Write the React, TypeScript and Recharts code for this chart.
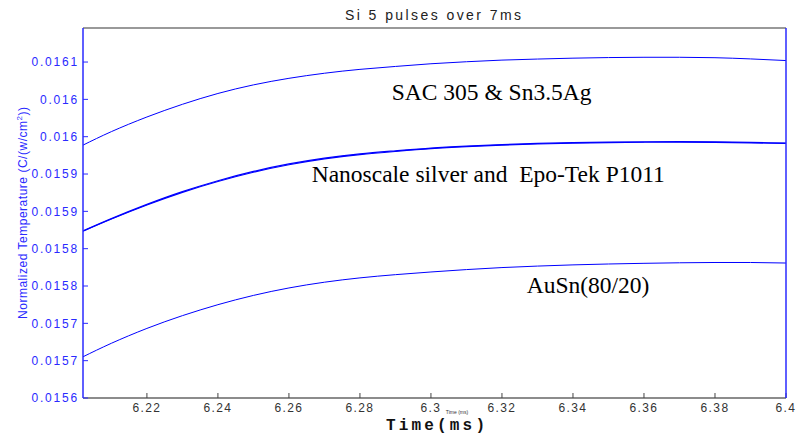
import React from 'react';
import { LineChart, Line, XAxis, YAxis } from 'recharts';

const timeMs = [6.202, 6.21, 6.22, 6.23, 6.24, 6.25, 6.26, 6.27, 6.28, 6.29, 6.3, 6.31, 6.32, 6.33, 6.34, 6.35, 6.36, 6.37, 6.38, 6.39, 6.4];
const sac305 = [0.0159387, 0.0159568, 0.0159764, 0.0159934, 0.0160079, 0.0160194, 0.0160282, 0.016035, 0.0160402, 0.0160441, 0.0160477, 0.0160504, 0.0160526, 0.016054, 0.0160552, 0.016056, 0.0160564, 0.0160564, 0.0160558, 0.0160542, 0.016052];
const nanoSilver = [0.0158235, 0.0158398, 0.0158586, 0.0158755, 0.01589, 0.0159024, 0.0159124, 0.0159203, 0.015926, 0.0159302, 0.0159339, 0.0159366, 0.0159387, 0.0159402, 0.0159413, 0.0159421, 0.0159426, 0.0159428, 0.0159425, 0.0159418, 0.015941];
const epoTek = [0.0158238, 0.0158403, 0.0158593, 0.0158764, 0.015891, 0.0159035, 0.0159135, 0.0159213, 0.015927, 0.0159311, 0.0159348, 0.0159374, 0.0159395, 0.015941, 0.015942, 0.0159428, 0.0159432, 0.0159434, 0.0159431, 0.0159423, 0.0159414];
const auSn = [0.0156552, 0.0156733, 0.0156932, 0.0157103, 0.015725, 0.0157374, 0.0157474, 0.0157551, 0.0157609, 0.0157652, 0.0157688, 0.015772, 0.0157747, 0.0157767, 0.0157783, 0.0157795, 0.0157804, 0.0157811, 0.0157815, 0.0157815, 0.0157808];

const xTicks = [6.22, 6.24, 6.26, 6.28, 6.3, 6.32, 6.34, 6.36, 6.38, 6.4];
const xTickLabels = ['6.22', '6.24', '6.26', '6.28', '6.3', '6.32', '6.34', '6.36', '6.38', '6.4'];
const yTicks = [0.0156, 0.01565, 0.0157, 0.01575, 0.0158, 0.01585, 0.0159, 0.01595, 0.016, 0.01605];
const yTickLabels = ['0.0156', '0.0157', '0.0157', '0.0158', '0.0158', '0.0159', '0.0159', '0.016', '0.016', '0.0161'];

const xDomain = [6.202, 6.4];
const yDomain = [0.0156, 0.0160956];

const data = timeMs.map((t, i) => ({ t, sac: sac305[i], nano: nanoSilver[i], epo: epoTek[i], ausn: auSn[i] }));

const BLUE = '#0000ff';
const AXIS_BLUE = '#2a2aff';

const fmtX = (v: number) => {
  const i = xTicks.findIndex((x) => Math.abs(x - v) < 1e-9);
  return i >= 0 ? xTickLabels[i] : String(v);
};
const fmtY = (v: number) => {
  const i = yTicks.findIndex((y) => Math.abs(y - v) < 1e-10);
  return i >= 0 ? yTickLabels[i] : String(v);
};

export default function App() {
  return (
    <div style={{ position: 'absolute', left: 0, top: 0, width: 796, height: 438, background: '#fff' }}>
      <LineChart width={796} height={438} data={data} margin={{ top: 0, right: 0, bottom: 0, left: 0 }}>
        <XAxis
          xAxisId={0}
          dataKey="t"
          type="number"
          domain={xDomain}
          allowDataOverflow
          ticks={xTicks}
          tickFormatter={fmtX}
          height={40}
          tickSize={-5}
          tickMargin={10}
          stroke="#555"
          axisLine={{ stroke: '#666', strokeWidth: 1.5 }}
          tickLine={{ stroke: '#444' }}
          tick={{ fill: '#333', fontSize: 12, fontFamily: 'Liberation Sans, Arial', letterSpacing: 1.4 }}
        />
        <XAxis
          xAxisId="top"
          orientation="top"
          dataKey="t"
          type="number"
          domain={xDomain}
          allowDataOverflow
          ticks={xTicks}
          height={28}
          tickSize={-5}
          tick={false}
          axisLine={{ stroke: '#777', strokeWidth: 1.5 }}
          tickLine={{ stroke: '#555' }}
        />
        <YAxis
          yAxisId={0}
          type="number"
          domain={yDomain}
          allowDataOverflow
          ticks={yTicks}
          tickFormatter={fmtY}
          width={83}
          tickSize={-5}
          tickMargin={9}
          axisLine={{ stroke: AXIS_BLUE, strokeWidth: 1.5 }}
          tickLine={{ stroke: AXIS_BLUE }}
          tick={{ fill: AXIS_BLUE, fontSize: 12, fontFamily: 'Liberation Sans, Arial', letterSpacing: 1.8 }}
        />
        <YAxis
          yAxisId="right"
          orientation="right"
          type="number"
          domain={yDomain}
          allowDataOverflow
          ticks={yTicks}
          width={10}
          tickSize={-5}
          tick={false}
          axisLine={{ stroke: AXIS_BLUE, strokeWidth: 1.5 }}
          tickLine={{ stroke: AXIS_BLUE }}
        />
        <Line xAxisId={0} yAxisId={0} type="natural" dataKey="sac" stroke={BLUE} strokeWidth={1} dot={false} isAnimationActive={false} />
        <Line xAxisId={0} yAxisId={0} type="natural" dataKey="nano" stroke={BLUE} strokeWidth={1.2} dot={false} isAnimationActive={false} />
        <Line xAxisId={0} yAxisId={0} type="natural" dataKey="epo" stroke={BLUE} strokeWidth={1.2} dot={false} isAnimationActive={false} />
        <Line xAxisId={0} yAxisId={0} type="natural" dataKey="ausn" stroke={BLUE} strokeWidth={1} dot={false} isAnimationActive={false} />
      </LineChart>
      <svg width={796} height={438} style={{ position: 'absolute', left: 0, top: 0, pointerEvents: 'none' }}>
        <text x={433} y={20} textAnchor="middle" fontFamily="Liberation Sans, Arial" fontSize={14} fill="#222" textLength={176} lengthAdjust="spacing">
          Si 5 pulses over 7ms
        </text>
        <text
          x={0}
          y={0}
          transform="translate(27,213) rotate(-90)"
          textAnchor="middle"
          fontFamily="Liberation Sans, Arial"
          fontSize={12}
          fill={AXIS_BLUE}
          textLength={212}
          lengthAdjust="spacing"
        >
          Normalized Temperature (C/(w/cm<tspan dy={-5} fontSize={8}>2</tspan><tspan dy={5}>))</tspan>
        </text>
        <text x={386} y={429.5} fontFamily="Liberation Mono, Courier New, monospace" fontWeight="bold" fontSize={16} fill="#111" textLength={99} lengthAdjust="spacing">
          Time(ms)
        </text>
        <text x={457} y={413.5} textAnchor="middle" fontFamily="Liberation Sans, Arial" fontSize={5} fill="#333">
          Time (ms)
        </text>
        <text x={391.7} y={100} fontFamily="Liberation Serif, Times New Roman, serif" fontSize={23.5} fill="#000">
          SAC 305 &amp; Sn3.5Ag
        </text>
        <text x={311.7} y={181.7} fontFamily="Liberation Serif, Times New Roman, serif" fontSize={23.5} fill="#000" style={{ whiteSpace: 'pre' }} xmlSpace="preserve">
          {'Nanoscale silver and  Epo-Tek P1011'}
        </text>
        <text x={526.7} y={293.3} fontFamily="Liberation Serif, Times New Roman, serif" fontSize={23.5} fill="#000">
          AuSn(80/20)
        </text>
      </svg>
    </div>
  );
}
